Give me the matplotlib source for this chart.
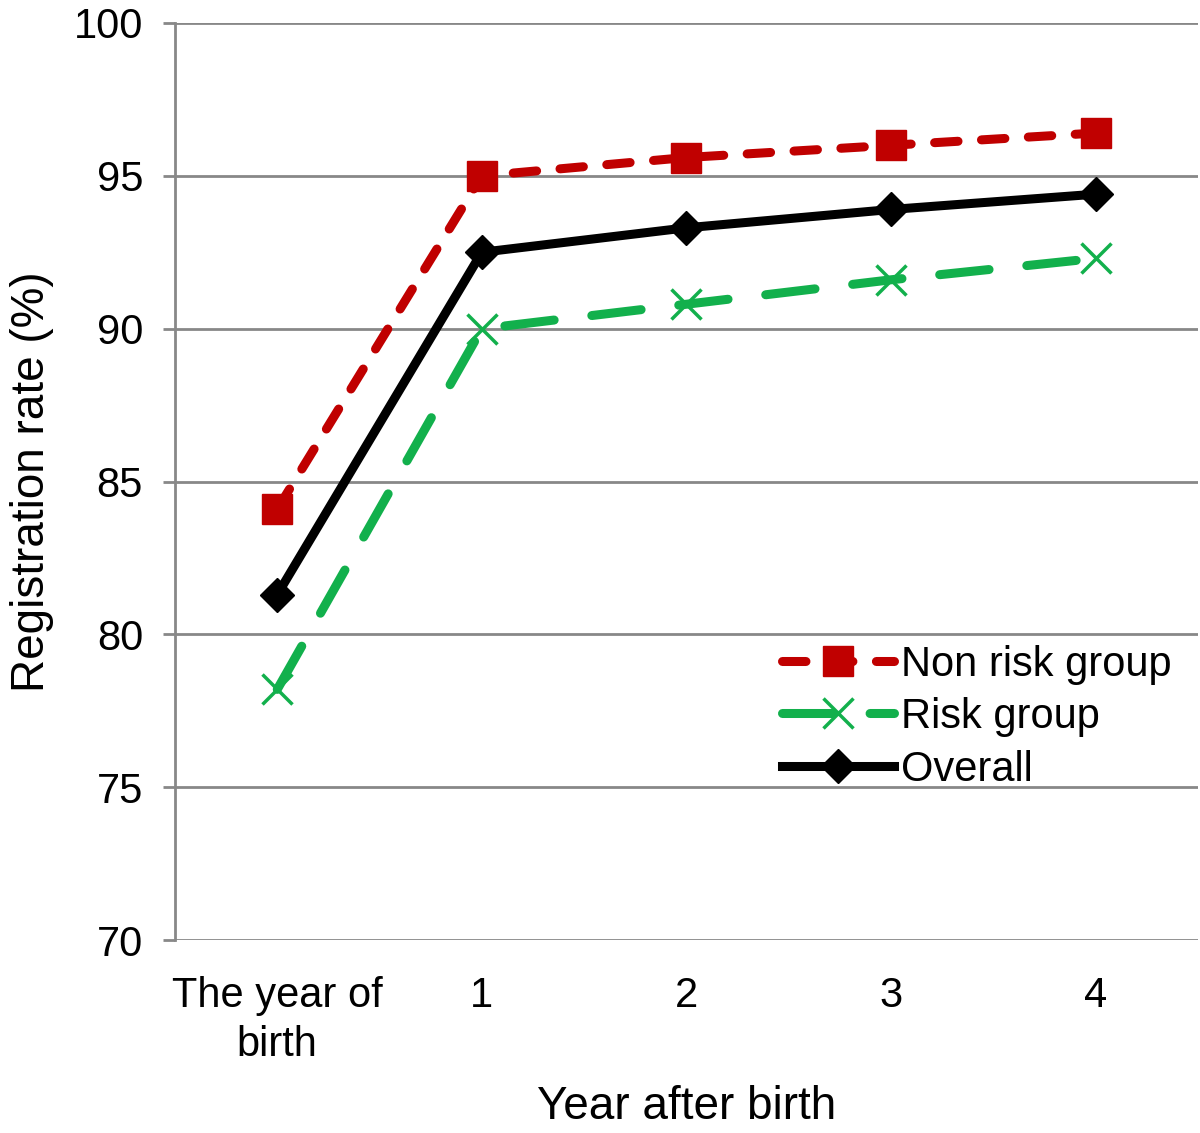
import matplotlib.pyplot as plt
import numpy as np

plt.rcParams["font.family"] = ["Liberation Sans", "DejaVu Sans"]

categories = ["The year of\nbirth", "1", "2", "3", "4"]
non_risk = [84.1, 95.0, 95.6, 96.0, 96.4]
risk = [78.2, 90.0, 90.8, 91.6, 92.3]
overall = [81.3, 92.5, 93.3, 93.9, 94.4]
y_ticks = [70, 75, 80, 85, 90, 95, 100]

fig = plt.figure(figsize=(12, 11.33), dpi=100)
ax = fig.add_axes([0.1458, 0.1703, 0.8525, 0.8094])

x = np.arange(len(categories))

ax.plot(x, non_risk, color="#c00000", lw=6.5, linestyle=(0, (2.6, 2.6)),
        dash_capstyle="round", marker="s", markersize=21, label="Non risk group", zorder=3)
ax.plot(x, risk, color="#12b04c", lw=6.5, linestyle=(0, (5.5, 4.2)),
        dash_capstyle="round", marker="x", markersize=21, markeredgewidth=2.5,
        label="Risk group", zorder=3)
ax.plot(x, overall, color="black", lw=6.5, marker="D", markersize=17,
        label="Overall", zorder=4)

ax.set_xlim(-0.5, len(categories) - 0.5)
ax.set_ylim(70, 100)
ax.set_yticks(y_ticks)
ax.set_xticks(x)
ax.set_xticklabels(categories, fontsize=30, linespacing=1.3)
ax.tick_params(axis="y", labelsize=30, length=9, width=2, color="#888888", pad=14)
ax.tick_params(axis="x", length=0, pad=26)

ax.grid(axis="y", color="#888888", lw=2)
ax.set_axisbelow(True)
for side in ["top", "right", "bottom"]:
    ax.spines[side].set_visible(False)
ax.spines["left"].set_color("#888888")
ax.spines["left"].set_linewidth(2)

ax.set_xlabel("Year after birth", fontsize=33, labelpad=14)
ax.set_ylabel("Registration rate (%)", fontsize=33, labelpad=14)

ax.legend(loc="upper left", bbox_to_anchor=(0.573, 0.345), frameon=False,
          fontsize=30, handlelength=2.7, handletextpad=0.15, labelspacing=0.3,
          borderpad=0)

fig.savefig("out.png", dpi=100)
